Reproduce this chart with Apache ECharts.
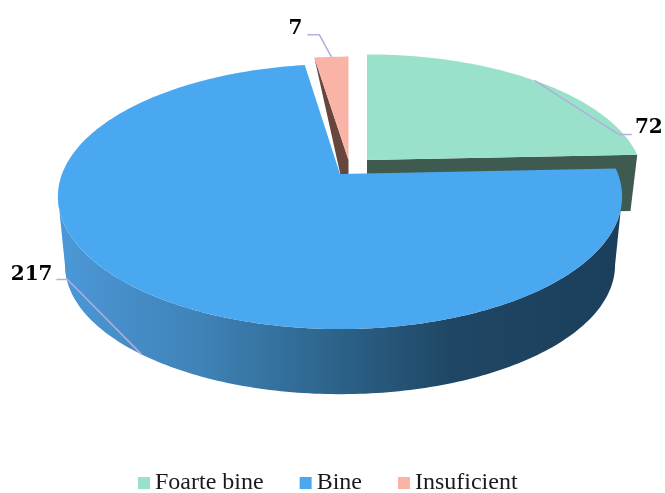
<!DOCTYPE html>
<html><head><meta charset="utf-8">
<style>html,body{margin:0;padding:0;background:#fff}#c{width:665px;height:493px}</style>
<script src="https://cdn.jsdelivr.net/npm/echarts@6/dist/echarts.min.js"></script>
</head><body><div id="c"></div>
<script>
const categories = ["Foarte bine", "Bine", "Insuficient"];
const values = [72, 217, 7];
const colors = ["#9ae1cb", "#4aa8f1", "#f9b3a7"];
const wallColors = ["#3f5b50", null, "#67463e"];

const total = values.reduce((a, b) => a + b, 0);
// Perspective view of the pie disc
const RX = 278, RY = 128.7, K = 0.17, BOTTOM_SCALE = 0.975;
// Per-slice placement (explosion)
const place = [
  { ax: 367, ay: 160, rx: 0.98, ry: 0.96, depth: 56, z: 1 },
  { ax: 340, ay: 174, rx: 1, ry: 1, depth: 69, z: 3 },
  { ax: 348.5, ay: 160, rx: 0.97, ry: 0.94, depth: 15, z: 2 }
];
// Leader elbows and label positions, relative to each leader's anchor
const leaders = [
  [[84, 54], [97, 54]],
  [[-74, -75], [-85, -75]],
  [[-12, -22], [-24, -22]]
];
const labelAt = [[100, 47], [-89, -80], [-29, -28]];

function proj(i, deg, bottom) {
  const p = place[i], t = deg * Math.PI / 180;
  const u = Math.sin(t), v = -Math.cos(t), w = 1 - K * v;
  const s = bottom ? BOTTOM_SCALE : 1;
  return [p.ax + s * p.rx * RX * u / w, p.ay + (bottom ? p.depth : 0) + s * p.ry * RY * v / w];
}
function arc(i, a, b, bottom) {
  const pts = [], n = Math.max(2, Math.ceil(Math.abs(b - a)));
  for (let k = 0; k <= n; k++) pts.push(proj(i, a + (b - a) * k / n, bottom));
  return pts;
}
function renderer(i) {
  return function (params, api) {
    const val = api.value(0);
    const before = values.slice(0, i).reduce((a, b) => a + b, 0);
    const a0 = before / total * 360, a1 = a0 + val / total * 360, mid = (a0 + a1) / 2;
    const p = place[i], apex = [p.ax, p.ay];
    const children = [];
    const poly = (points, fill) => children.push({ type: "polygon", shape: { points }, style: { fill }, silent: true });
    if (i === 0) {
      const c = proj(i, a1, false), cb = proj(i, a1, true);
      poly([apex, c, cb, [apex[0], apex[1] + p.depth]], wallColors[i]);
    }
    if (i === 2) {
      const c = proj(i, a0, false);
      poly([c, apex, [apex[0], apex[1] + p.depth], [apex[0] - 8, apex[1] + p.depth]], wallColors[i]);
    }
    if (i === 1) {
      // outer wall between the two silhouette tangents of the disc
      const tangent = Math.acos(K) * 180 / Math.PI;
      const right = 180 - tangent, left = 180 + tangent;
      const fill = new echarts.graphic.LinearGradient(0, 0, 1, 0, [
        { offset: 0, color: "#4c98d8" },
        { offset: 0.25, color: "#3f83b8" },
        { offset: 0.5, color: "#2c6288" },
        { offset: 0.7, color: "#1f4664" },
        { offset: 1, color: "#1b3f5b" }
      ]);
      poly(arc(i, right, left, false).concat(arc(i, left, right, true)), fill);
    }
    poly([apex].concat(arc(i, a0, a1, false)), colors[i]);
    // leader line + value label
    const anchor = proj(i, mid, i === 1);
    const linePts = [anchor].concat(leaders[i].map(o => [anchor[0] + o[0], anchor[1] + o[1]]));
    children.push({ type: "polyline", shape: { points: linePts }, style: { fill: null, stroke: "#b3aedb", lineWidth: 1.5 }, silent: true });
    const lab = labelAt[i];
    children.push({
      type: "text", silent: true,
      x: anchor[0] + lab[0], y: anchor[1] + lab[1],
      style: {
        text: String(val), fill: "#000", font: 'bold 20px "DejaVu Serif"',
        align: i === 0 ? "left" : "right", verticalAlign: "middle"
      }
    });
    return { type: "group", children };
  };
}
const chart = echarts.init(document.getElementById("c"), null, { renderer: "canvas" });
chart.setOption({
  animation: false,
  backgroundColor: "#fff",
  legend: {
    data: categories, left: 133, top: 466, itemWidth: 12, itemHeight: 12, itemGap: 36,
    icon: "rect", selectedMode: false,
    textStyle: { fontFamily: "Liberation Serif", fontSize: 24, color: "#1a1a1a" },
    itemStyle: { borderWidth: 0 }
  },
  series: categories.map((name, i) => ({
    type: "custom", name, coordinateSystem: "none", z: place[i].z,
    itemStyle: { color: colors[i] },
    data: [[values[i]]],
    renderItem: renderer(i),
    silent: true
  }))
});
</script></body></html>
